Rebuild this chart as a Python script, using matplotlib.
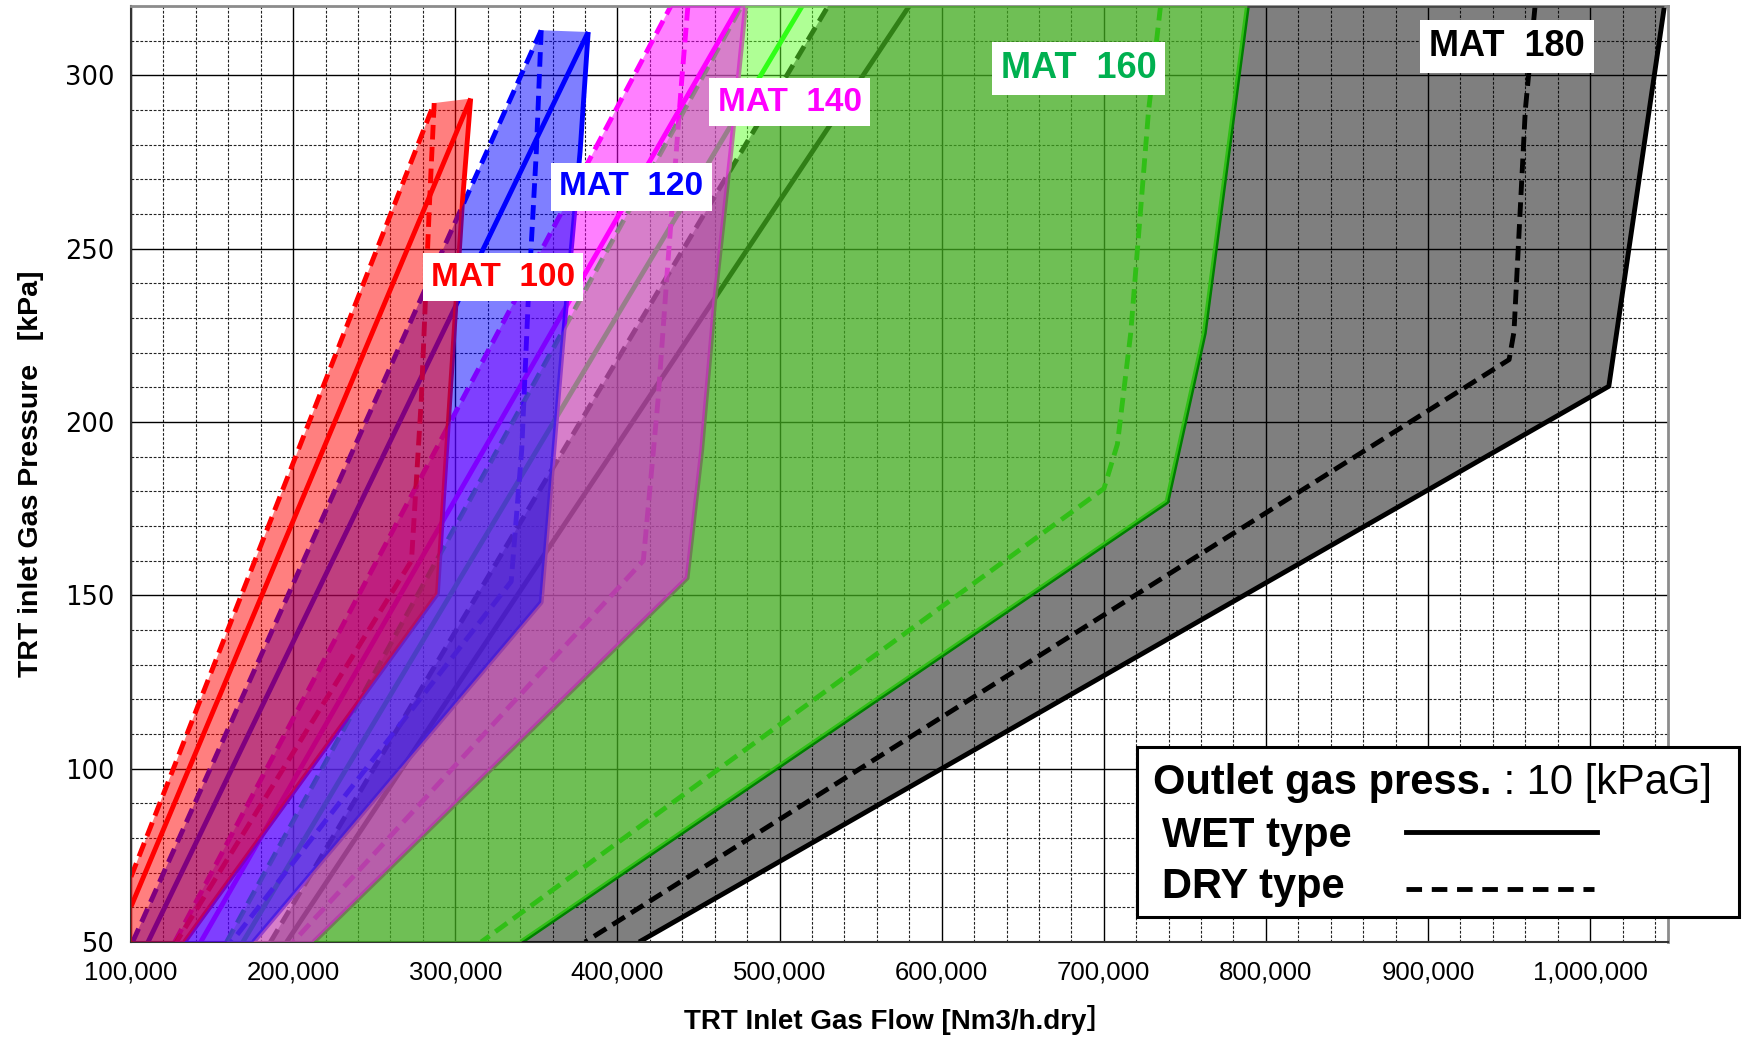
import matplotlib
matplotlib.use('Agg')
import matplotlib.pyplot as plt
from matplotlib.ticker import MultipleLocator, FuncFormatter
from matplotlib.patches import Rectangle, Polygon
from matplotlib.lines import Line2D

# ---------------- data (flow Nm3/h.dry, pressure kPa) ----------------
models = ['MAT 100', 'MAT 120', 'MAT 140', 'MAT 160', 'MAT 180']
fill_colors = ['#FF0000', '#0000FF', '#FF00FF', '#61FF2D', '#000000']
line_colors = ['#FF0000', '#0000FF', '#FF00FF', '#00FF00', '#000000']
label_colors = ['#FF0000', '#0000FF', '#FF00FF', '#00B050', '#000000']

# MAT 100
m100_wet_left_f = [100000, 309500]
m100_wet_left_p = [60.2, 293.3]
m100_wet_right_f = [309500, 304500, 289000, 133000]
m100_wet_right_p = [293.3, 264, 150.5, 50]
m100_dry_left_f = [100000, 287000]
m100_dry_left_p = [68.8, 292]
m100_dry_right_f = [287000, 284000, 279000, 273000, 128000]
m100_dry_right_p = [292, 262, 206, 160, 50]

# MAT 120
m120_wet_left_f = [110500, 382000]
m120_wet_left_p = [50, 312.5]
m120_wet_right_f = [382000, 377000, 366000, 353000, 175500]
m120_wet_right_p = [312.5, 278, 221, 148, 50]
m120_dry_left_f = [101000, 353000]
m120_dry_left_p = [50, 313]
m120_dry_right_f = [353000, 350000, 345000, 341000, 334500, 162000]
m120_dry_right_p = [313, 278, 235, 192, 154, 50]

# MAT 140
m140_wet_left_f = [143000, 475000]
m140_wet_left_p = [50, 320]
m140_wet_right_f = [479000, 470000, 460000, 452000, 443000, 212600]
m140_wet_right_p = [320, 278, 235, 192, 155, 50]
m140_dry_left_f = [127000, 433000]
m140_dry_left_p = [50, 320]
m140_dry_right_f = [443500, 439500, 431000, 425000, 416000, 200000]
m140_dry_right_p = [320, 297.6, 245, 206, 160, 50]

# MAT 160
m160_wet_left_f = [169000, 514000]
m160_wet_left_p = [50, 320]
m160_wet_right_f = [788600, 771000, 762000, 739000, 340600]
m160_wet_right_p = [320, 257.7, 225.6, 177, 50]
m160_dry_left_f = [159000, 476600]
m160_dry_left_p = [50, 320]
m160_dry_right_f = [735000, 727600, 716600, 708400, 700100, 316000]
m160_dry_right_p = [320, 289.7, 225.6, 193.6, 180.8, 50]

# MAT 180
m180_wet_left_f = [196000, 580000]
m180_wet_left_p = [50, 320]
m180_wet_right_f = [1045800, 1011500, 413400]
m180_wet_right_p = [320, 210.3, 50]
m180_dry_left_f = [186000, 530000]
m180_dry_left_p = [50, 320]
m180_dry_right_f = [966000, 960000, 953000, 950000, 380000]
m180_dry_right_p = [320, 290, 226, 218, 50]

label_pos_f = [329400, 408600, 506300, 684400, 948500]
label_pos_p = [241.8, 267.8, 292.3, 302.1, 308.4]

x_ticks = [100000, 200000, 300000, 400000, 500000, 600000, 700000, 800000, 900000, 1000000]
y_ticks = [50, 100, 150, 200, 250, 300]

series = {
    'MAT 100': (m100_wet_left_f, m100_wet_left_p, m100_wet_right_f, m100_wet_right_p,
                m100_dry_left_f, m100_dry_left_p, m100_dry_right_f, m100_dry_right_p),
    'MAT 120': (m120_wet_left_f, m120_wet_left_p, m120_wet_right_f, m120_wet_right_p,
                m120_dry_left_f, m120_dry_left_p, m120_dry_right_f, m120_dry_right_p),
    'MAT 140': (m140_wet_left_f, m140_wet_left_p, m140_wet_right_f, m140_wet_right_p,
                m140_dry_left_f, m140_dry_left_p, m140_dry_right_f, m140_dry_right_p),
    'MAT 160': (m160_wet_left_f, m160_wet_left_p, m160_wet_right_f, m160_wet_right_p,
                m160_dry_left_f, m160_dry_left_p, m160_dry_right_f, m160_dry_right_p),
    'MAT 180': (m180_wet_left_f, m180_wet_left_p, m180_wet_right_f, m180_wet_right_p,
                m180_dry_left_f, m180_dry_left_p, m180_dry_right_f, m180_dry_right_p),
}

XMIN, XMAX, YMIN, YMAX = 100000, 1048000, 50, 320

# ---------------- figure ----------------
plt.rcParams['font.family'] = ['Liberation Sans', 'DejaVu Sans']

fig = plt.figure(figsize=(17.42, 10.39), dpi=100)
ax = fig.add_axes([131/1742, 1-942/1039, (1668-131)/1742, (942-6)/1039])

ax.set_xlim(XMIN, XMAX)
ax.set_ylim(YMIN, YMAX)

ax.xaxis.set_minor_locator(MultipleLocator(20000))
ax.yaxis.set_minor_locator(MultipleLocator(10))
ax.set_xticks(x_ticks)
ax.set_yticks(y_ticks)
ax.xaxis.set_major_formatter(FuncFormatter(lambda v, p: '{:,.0f}'.format(v)))
ax.yaxis.set_major_formatter(FuncFormatter(lambda v, p: '{:.0f}'.format(v)))

ax.set_axisbelow(True)
ax.grid(which='major', color='black', linewidth=1.0, linestyle='-', zorder=0)
ax.grid(which='minor', color='#222222', linewidth=0.8, linestyle=(0, (2.5, 1.5)), zorder=0)
ax.tick_params(which='both', length=0)
ax.tick_params(axis='x', pad=13)
ax.tick_params(axis='y', pad=12)
for lab in ax.get_xticklabels():
    lab.set_fontfamily(['Liberation Sans'])
    lab.set_fontsize(18.5)
for lab in ax.get_yticklabels():
    lab.set_fontfamily(['DejaVu Sans'])
    lab.set_fontsize(18.5)

for s in ['left', 'bottom']:
    ax.spines[s].set_color('#333333')
    ax.spines[s].set_linewidth(1.5)
for s in ['top', 'right']:
    ax.spines[s].set_color('#8c8c8c')
    ax.spines[s].set_linewidth(2)

# all envelope lines lie beneath the translucent fills;
# fills stacked from MAT 180 (bottom) to MAT 100 (top)
order = ['MAT 180', 'MAT 160', 'MAT 140', 'MAT 120', 'MAT 100']
for k, name in enumerate(order):
    i = models.index(name)
    (wlf, wlp, wrf, wrp, dlf, dlp, drf, drp) = series[name]
    poly_f = list(dlf) + list(wrf)
    poly_p = list(dlp) + list(wrp)
    if poly_p[0] > YMIN:
        poly_f = [poly_f[0]] + poly_f
        poly_p = [YMIN] + poly_p
    ax.add_patch(Polygon(list(zip(poly_f, poly_p)), closed=True,
                         facecolor=fill_colors[i], alpha=0.5, edgecolor='none',
                         zorder=3 + k))
    c = line_colors[i]
    lw = 3.5
    ax.plot(wlf, wlp, color=c, lw=lw, zorder=2, solid_capstyle='butt')
    ax.plot(wrf, wrp, color=c, lw=lw, zorder=2, solid_capstyle='butt')
    ax.plot(dlf, dlp, color=c, lw=lw, ls=(0, (3, 1.5)), zorder=2)
    ax.plot(drf, drp, color=c, lw=lw, ls=(0, (3, 1.5)), zorder=2)

# model labels
for i, name in enumerate(models):
    size = 26 if name in ('MAT 160', 'MAT 180') else 24
    ax.text(label_pos_f[i], label_pos_p[i], name.replace(' ', '  '),
            color=label_colors[i], fontsize=size, fontweight='bold',
            ha='center', va='center', zorder=30,
            bbox=dict(boxstyle='square,pad=0.25', facecolor='white', edgecolor='none'))

# axis labels
ax.set_xlabel('TRT Inlet Gas Flow [Nm3/h.dry\uff3d', fontsize=20, fontweight='bold',
              family=['Liberation Sans', 'Noto Sans CJK JP', 'DejaVu Sans'],
              labelpad=15)
ax.set_ylabel('TRT inlet Gas Pressure   [kPa]', fontsize=20.5, fontweight='bold',
              labelpad=15)

# legend box (figure coordinates)
lx0, lx1 = 1137/1742, 1739/1742
ly0, ly1 = 1-917/1039, 1-747/1039
fig.add_artist(Rectangle((lx0, ly0), lx1-lx0, ly1-ly0, transform=fig.transFigure,
                         facecolor='white', edgecolor='black', linewidth=2.2, zorder=40))
t1 = fig.text(1153/1742, 1-783/1039, 'Outlet gas press.', fontsize=30, fontweight='bold',
              ha='left', va='center', zorder=41)
fig.canvas.draw()
bb = t1.get_window_extent(renderer=fig.canvas.get_renderer())
fig.text(bb.x1/fig.bbox.width, 1-783/1039, ' : 10 [kPaG]', fontsize=30,
         ha='left', va='center', zorder=41)
fig.text(1162/1742, 1-836/1039, 'WET type', fontsize=30, fontweight='bold',
         ha='left', va='center', zorder=41)
fig.text(1162/1742, 1-887/1039, 'DRY type', fontsize=30, fontweight='bold',
         ha='left', va='center', zorder=41)
fig.add_artist(Line2D([1406/1742, 1597/1742], [1-832/1039, 1-832/1039],
                      transform=fig.transFigure, color='black', lw=3.5, zorder=41))
fig.add_artist(Line2D([1406/1742, 1594/1742], [1-889/1039, 1-889/1039],
                      transform=fig.transFigure, color='black', lw=3.5,
                      ls=(0, (3.2, 2.0)), zorder=41))

fig.savefig('out.png', dpi=100)
